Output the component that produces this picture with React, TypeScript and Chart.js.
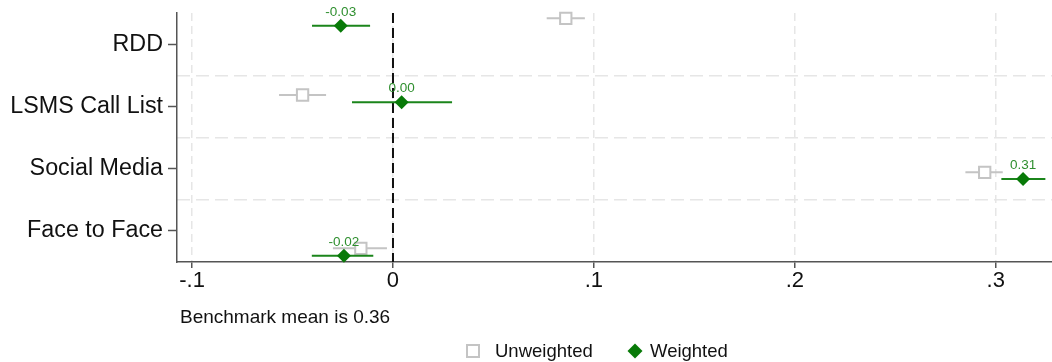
import React, { useEffect, useRef } from "react";
import { Chart, registerables } from "chart.js";

Chart.register(...registerables);

// ---------------- data ----------------
const categories = ["RDD", "LSMS Call List", "Social Media", "Face to Face"];
const categoryPositions = [1, 2, 3, 4];

const unweightedEst = [0.086, -0.045, 0.2945, -0.016];
const unweightedLo = [0.0765, -0.0567, 0.2849, -0.0299];
const unweightedHi = [0.0955, -0.0333, 0.3035, -0.003];
const unweightedRow = [0.585, 1.817, 3.059, 4.28];

const weightedEst = [-0.026, 0.0043, 0.3136, -0.0244];
const weightedLo = [-0.0403, -0.0204, 0.3028, -0.0404];
const weightedHi = [-0.0114, 0.0294, 0.3247, -0.0098];
const weightedRow = [0.704, 1.935, 3.167, 4.399];

const xTickValues = [-0.1, 0, 0.1, 0.2, 0.3];
const xTickLabels = ["-.1", "0", ".1", ".2", ".3"];
const xMin = -0.1075;
const xMax = 0.328;
const yMin = 0.5;
const yMax = 4.5;
const gridRowPositions = [1.5, 2.5, 3.5];
const referenceValue = 0;
const benchmarkNote = "Benchmark mean is 0.36";
const legendLabels = ["Unweighted", "Weighted"];

// ---------------- styles ----------------
const FONT = "Arial, 'Liberation Sans', Helvetica, sans-serif";
const GREEN = "#087a08";
const GREEN_LINE = "#1b851b";
const GREEN_TEXT = "#2f8f2f";
const GREY = "#c4c4c4";
const AXIS = "#555555";
const GRID = "#e6e6e6";

const ciSegments = (lo: number[], hi: number[], row: number[]) =>
  lo.flatMap((l, i) => [
    { x: l, y: row[i] },
    { x: hi[i], y: row[i] },
    { x: NaN, y: NaN },
  ]);

const points = (est: number[], row: number[]) =>
  est.map((v, i) => ({ x: v, y: row[i] }));

const annotate = {
  id: "annotate",
  afterDatasetsDraw(chart: any) {
    const ctx = chart.ctx;
    const meta = chart.getDatasetMeta(4);
    ctx.save();
    ctx.font = `13.5px ${FONT}`;
    ctx.fillStyle = GREEN_TEXT;
    ctx.textAlign = "center";
    ctx.textBaseline = "alphabetic";
    meta.data.forEach((pt: any, i: number) => {
      ctx.fillText(weightedEst[i].toFixed(2), pt.x, pt.y - 10);
    });
    ctx.restore();
  },
  afterDraw(chart: any) {
    const ctx = chart.ctx;
    ctx.save();
    ctx.fillStyle = "#111";
    ctx.textAlign = "left";
    ctx.textBaseline = "alphabetic";
    ctx.font = `19px ${FONT}`;
    ctx.fillText(benchmarkNote, 180, 323);

    // legend
    ctx.font = `18.5px ${FONT}`;
    ctx.strokeStyle = GREY;
    ctx.lineWidth = 2;
    ctx.fillStyle = "#fff";
    ctx.fillRect(467, 345, 12, 12);
    ctx.strokeRect(467, 345, 12, 12);
    ctx.fillStyle = "#111";
    ctx.fillText(legendLabels[0], 495, 357);

    ctx.fillStyle = GREEN;
    ctx.beginPath();
    ctx.moveTo(635, 343.5);
    ctx.lineTo(642.5, 351);
    ctx.lineTo(635, 358.5);
    ctx.lineTo(627.5, 351);
    ctx.closePath();
    ctx.fill();
    ctx.fillStyle = "#111";
    ctx.fillText(legendLabels[1], 650, 357);
    ctx.restore();
  },
};

export default function App() {
  const ref = useRef<HTMLCanvasElement | null>(null);

  useEffect(() => {
    if (!ref.current) return;
    const chart = new Chart(ref.current, {
      type: "line",
      data: {
        datasets: [
          {
            label: "zero",
            data: [
              { x: referenceValue, y: yMin },
              { x: referenceValue, y: yMax },
            ],
            borderColor: "#111",
            borderWidth: 2,
            borderDash: [10, 5],
            pointRadius: 0,
            showLine: true,
            order: 6,
            yAxisID: "y",
            xAxisID: "x",
          },
          {
            label: "unweighted ci",
            data: ciSegments(unweightedLo, unweightedHi, unweightedRow),
            borderColor: GREY,
            borderWidth: 2,
            pointRadius: 0,
            showLine: true,
            spanGaps: false,
            order: 5,
            yAxisID: "y",
            xAxisID: "x",
          },
          {
            label: "Unweighted",
            data: points(unweightedEst, unweightedRow),
            showLine: false,
            pointStyle: "rect",
            pointRadius: 8,
            pointBackgroundColor: "#ffffff",
            pointBorderColor: GREY,
            pointBorderWidth: 2,
            order: 4,
            clip: false,
            yAxisID: "y",
            xAxisID: "x",
          },
          {
            label: "weighted ci",
            data: ciSegments(weightedLo, weightedHi, weightedRow),
            borderColor: GREEN_LINE,
            borderWidth: 2,
            pointRadius: 0,
            showLine: true,
            spanGaps: false,
            order: 3,
            yAxisID: "y",
            xAxisID: "x",
          },
          {
            label: "Weighted",
            data: points(weightedEst, weightedRow),
            showLine: false,
            pointStyle: "rectRot",
            pointRadius: 7,
            pointBackgroundColor: GREEN,
            pointBorderColor: GREEN,
            pointBorderWidth: 0,
            order: 2,
            clip: false,
            yAxisID: "y",
            xAxisID: "x",
          },
        ] as any,
      },
      options: {
        animation: false,
        responsive: false,
        events: [],
        layout: { autoPadding: false, padding: { top: 13, right: 0, bottom: 0, left: 0 } },
        plugins: {
          legend: { display: false },
          tooltip: { enabled: false },
        },
        scales: {
          x: {
            type: "linear",
            min: xMin,
            max: xMax,
            afterBuildTicks: (s: any) => {
              s.ticks = xTickValues.map((v) => ({ value: v }));
            },
            afterFit: (s: any) => {
              s.height = 100;
              s.paddingLeft = 0;
              s.paddingRight = 0;
            },
            ticks: {
              callback: (_v: any, i: number) => xTickLabels[i],
              font: { size: 22, family: FONT },
              color: "#111",
              padding: 0,
              maxRotation: 0,
              autoSkip: false,
            },
            grid: {
              color: GRID,
              lineWidth: 1.5,
              tickColor: AXIS,
              tickLength: 6,
              tickWidth: 1.5,
              tickBorderDash: [],
            },
            border: { display: true, color: AXIS, width: 1.5, dash: [8, 5] },
          },
          y: {
            type: "linear",
            position: "left",
            min: yMin,
            max: yMax,
            reverse: true,
            afterBuildTicks: (s: any) => {
              s.ticks = categoryPositions.map((v) => ({ value: v }));
            },
            afterFit: (s: any) => {
              s.width = 177;
              s.paddingTop = 0;
              s.paddingBottom = 0;
            },
            ticks: {
              callback: (_v: any, i: number) => categories[i],
              font: { size: 23.3, family: FONT },
              color: "#111",
              padding: 5,
              autoSkip: false,
            },
            grid: {
              drawOnChartArea: false,
              tickLength: 9,
              tickColor: AXIS,
              tickWidth: 1.5,
              tickBorderDash: [],
            },
            border: { display: true, color: AXIS, width: 1.5 },
          },
          yGrid: {
            type: "linear",
            position: "right",
            min: yMin,
            max: yMax,
            reverse: true,
            afterBuildTicks: (s: any) => {
              s.ticks = gridRowPositions.map((v) => ({ value: v }));
            },
            afterFit: (s: any) => {
              s.width = 0;
              s.paddingTop = 0;
              s.paddingBottom = 0;
            },
            ticks: { display: false },
            grid: { drawTicks: false, color: GRID, lineWidth: 1.5 },
            border: { display: false, dash: [13, 6] },
          },
        } as any,
      },
      plugins: [annotate],
    });
    return () => chart.destroy();
  }, []);

  return (
    <div style={{ position: "absolute", left: 0, top: 0, width: 1052, height: 362, background: "#fff" }}>
      <canvas ref={ref} width={1052} height={362} style={{ display: "block" }} />
    </div>
  );
}
